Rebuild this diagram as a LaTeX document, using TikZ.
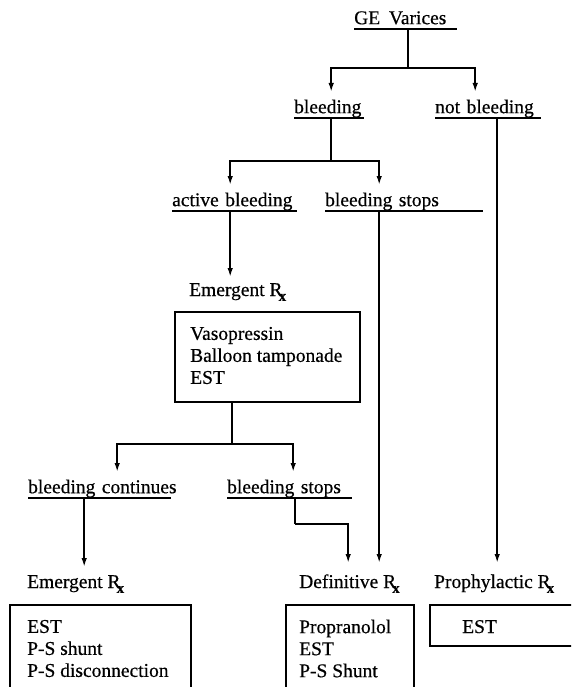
\documentclass[tikz,border=0pt]{standalone}
\usepackage{fontspec}
\setmainfont{Liberation Serif}[FakeBold=0.5]
\usetikzlibrary{arrows.meta}
\newcommand{\Rxsym}{R\kern-0.2em\raisebox{-0.55ex}{\fontsize{15}{15}\selectfont\bfseries x}}
\begin{document}
\begin{tikzpicture}[x=1pt,y=-1pt,
  every node/.style={font=\fontsize{19.5}{22}\selectfont, inner sep=0pt},
  ln/.style={line width=1.7pt},
  arr/.style={ln, -{Latex[length=9pt,width=5.5pt]}},
  ul/.style={anchor=south west, text height=21pt, text depth=4.6pt, text width=#1, align=left},
  box/.style={draw, line width=1.7pt, anchor=north west},
]
\useasboundingbox (0,0) rectangle (571,687);
\clip (0,0) rectangle (571,687);

% labels
\node[ul=103pt] (ge) at (354,29) {\mbox{GE\hspace{0.45em}Varices}};
\node[ul=70pt] (bl) at (294,118) {\mbox{bleeding}};
\node[ul=106pt] (nbl) at (435,118) {\mbox{not bleeding}};
\node[ul=125pt] (act) at (172,211) {\mbox{active bleeding}};
\node[ul=158pt] (bs1) at (325,211) {\mbox{bleeding stops}};
\node[anchor=base west] (em1) at (189,296) {Emergent \Rxsym};
\node[box, minimum width=185pt, minimum height=90pt] (b1) at (174,311) {};
\node[anchor=west, align=left] (t1) at (190,355.5) {Vasopressin\\Balloon tamponade\\EST};
\node[ul=143pt] (bc) at (28,498) {\mbox{bleeding continues}};
\node[ul=125pt] (bs2) at (227,498) {\mbox{bleeding stops}};
\node[anchor=base west] (em2) at (27,588) {Emergent \Rxsym};
\node[anchor=base west] (df) at (299,588) {Definitive \Rxsym};
\node[anchor=base west] (pr) at (434,588) {Prophylactic \Rxsym};
\node[box, minimum width=181pt, minimum height=100pt] (b2) at (9,604) {};
\node[anchor=west, align=left] (t2) at (27,648.5) {EST\\P-S shunt\\P-S disconnection};
\node[box, minimum width=128pt, minimum height=100pt] (b3) at (285,604) {};
\node[anchor=west, align=left] (t3) at (299,648.5) {Propranolol\\EST\\P-S Shunt};
\node[box, minimum width=170pt, minimum height=41pt] (b4) at (429,604) {};
\node[anchor=base west] (t4) at (462,633) {EST};

% underlines
\foreach \n in {ge,bl,nbl,act,bs1,bc,bs2}
  \draw[ln] (\n.south west) -- (\n.south east);

% connectors
\draw[ln] ([xshift=2.5pt]ge.south) -- ++(0,39) coordinate (j1);
\draw[arr] (j1) -| ([xshift=2pt]bl.north);
\draw[arr] (j1) -| ([xshift=-13pt]nbl.north);
\draw[ln] ([xshift=2pt]bl.south) -- ++(0,43) coordinate (j2);
\draw[arr] (j2) -| ([xshift=-4.5pt]act.north);
\draw[arr] (j2) -| ([xshift=-25pt]bs1.north);
\draw[arr] ([xshift=-4.5pt]act.south) -- ++(0,66);
\draw[ln] ([xshift=-35.5pt]b1.south) -- ++(0,41) coordinate (j3);
\draw[arr] (j3) -| ([xshift=17.5pt]bc.north);
\draw[arr] (j3) -| ([xshift=3.5pt]bs2.north);
\draw[arr] ([xshift=-15.5pt]bc.south) -- ++(0,69);
\draw[ln] ([xshift=5.5pt]bs2.south) -- ++(0,26) coordinate (j4);
\draw[arr] (j4) -- ++(53,0) -- ++(0,39);
\draw[arr] ([xshift=-25pt]bs1.south) -- ++(0,352);
\draw[arr] ([xshift=9pt]nbl.south) -- ++(0,445);
\end{tikzpicture}
\end{document}
